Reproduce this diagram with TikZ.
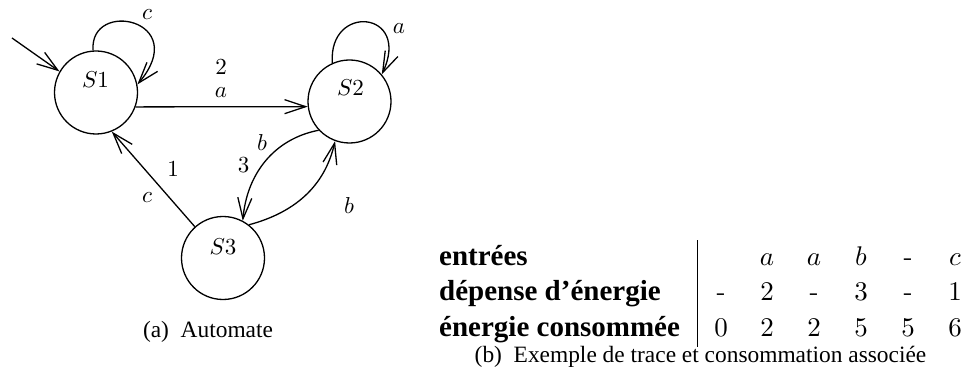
\documentclass[tikz,border=0pt]{standalone}
\usepackage{fontspec}
\newfontfamily\timesfont{Liberation Serif}
\usetikzlibrary{arrows.meta}
\begin{document}
\begin{tikzpicture}[x=1pt,y=1pt,
  state/.style={circle, draw, line width=1.3pt, minimum size=83pt, inner sep=0pt},
  edge/.style={line width=1.3pt, -{Straight Barb[length=21pt,width=14pt,line width=1.3pt]}},
  lab/.style={font=\fontsize{10}{12}\selectfont, inner sep=0pt, scale=2.3, transform shape},
  captext/.style={font=\timesfont\fontsize{23.4}{28}\selectfont, inner sep=0pt, anchor=base},
  rowlab/.style={font=\timesfont\bfseries\fontsize{29}{35}\selectfont, inner sep=0pt, anchor=base west},
  val/.style={font=\fontsize{10}{12}\selectfont, inner sep=0pt, anchor=base, scale=2.7, transform shape}]
\useasboundingbox (0,0) rectangle (966,-374);

% states
\node[state] (S1) at (96,-92.5) {};
\node[state] (S2) at (349.5,-101.5) {};
\node[state] (S3) at (223,-258) {};
\node[lab] (S1t) at (95.5,-80) {$S1$};
\node[lab] (S2t) at (350.5,-88) {$S2$};
\node[lab] (S3t) at (223,-246.5) {$S3$};

% edges
\coordinate (init) at (12,-38);
\draw[edge] (init) -- (S1.150);
\draw[edge] (S1.94) .. controls +(-4,52) and +(55,65) .. (S1.11);
\draw[edge] (S2.114) .. controls +(-4.4,60) and +(30,64) .. (S2.40);
\draw[edge] (S1.-20.4) -- (S2.187.6);
\draw[edge] (S3.132) -- (S1.-68);
\draw[edge] (S2.223) to[out=191,in=85] (S3.62);
\draw[edge] (S3.52) to[out=15,in=257] (S2.250);

% edge labels
\node[lab] (l1) at (147,-15) {$c$};
\node[lab] (l2) at (399,-29) {$a$};
\node[lab] (l3) at (221,-67) {$2$};
\node[lab] (l4) at (221,-93) {$a$};
\node[lab] (l5) at (173,-169) {$1$};
\node[lab] (l6) at (147,-198) {$c$};
\node[lab] (l7) at (262,-143) {$b$};
\node[lab] (l8) at (243.5,-165) {$3$};
\node[lab] (l9) at (349,-205.5) {$b$};

% caption (a)
\node[captext] (capa) at (208,-337) {(a)\hspace{0.5em}Automate};

% table
\node[rowlab] (r1) at (439,-265) {entrées};
\node[rowlab] (r2) at (439,-300) {dépense d’énergie};
\node[rowlab] (r3) at (439,-336) {énergie consommée};
\coordinate (rt) at (697,-240);
\coordinate (rb) at (697,-347);
\draw[line width=1pt] (rt) -- (rb);

\node[val] (a1) at (767,-265) {$a$};
\node[val] (a2) at (814,-265) {$a$};
\node[val] (a3) at (861,-265) {$b$};
\node[val] (a4) at (908,-265) {-};
\node[val] (a5) at (955,-265) {$c$};

\node[val] (b0) at (721,-300) {-};
\node[val] (b1) at (767,-300) {$2$};
\node[val] (b2) at (814,-300) {-};
\node[val] (b3) at (861,-300) {$3$};
\node[val] (b4) at (908,-300) {-};
\node[val] (b5) at (955,-300) {$1$};

\node[val] (c0) at (721,-336) {$0$};
\node[val] (c1) at (767,-336) {$2$};
\node[val] (c2) at (814,-336) {$2$};
\node[val] (c3) at (861,-336) {$5$};
\node[val] (c4) at (908,-336) {$5$};
\node[val] (c5) at (955,-336) {$6$};

% caption (b)
\node[captext] (capb) at (700.5,-362) {(b)\hspace{0.5em}Exemple de trace et consommation associée};
\end{tikzpicture}
\end{document}
